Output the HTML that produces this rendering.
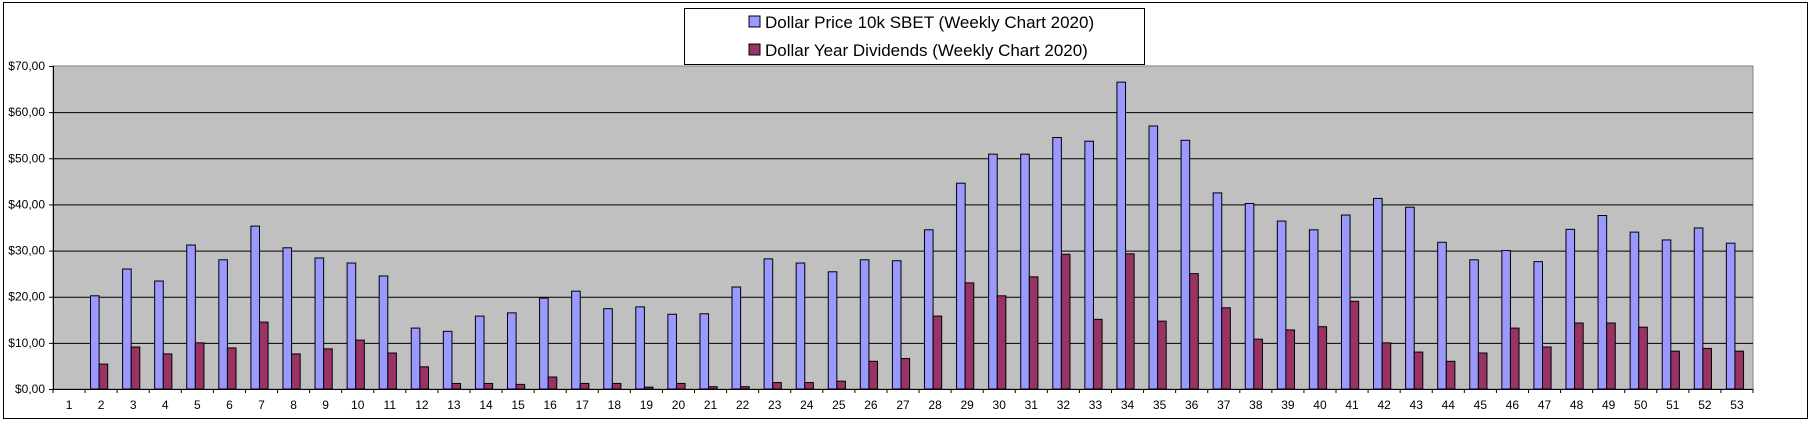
<!DOCTYPE html>
<html><head><meta charset="utf-8"><style>
body{margin:0;background:#fff;width:1812px;height:423px;overflow:hidden}
svg text{font-family:"Liberation Sans",sans-serif}
</style></head><body>
<svg id="chart" width="1812" height="423">
<rect x="3.5" y="2.5" width="1804" height="416" fill="#fff" stroke="#000"/>
<rect x="53" y="66" width="1700" height="323" fill="#c0c0c0" stroke="#808080"/>
<g id="grid"></g><g id="bars"></g><g id="axes"></g>
<g>
<rect x="684.5" y="8.5" width="460" height="56" fill="#fff" stroke="#000"/>
<rect x="749" y="16" width="11" height="11" fill="#9999ff" stroke="#000"/>
<text x="765" y="28" font-size="17">Dollar Price 10k SBET (Weekly Chart 2020)</text>
<rect x="749" y="44" width="11" height="11" fill="#993366" stroke="#000"/>
<text x="765" y="56" font-size="17">Dollar Year Dividends (Weekly Chart 2020)</text>
</g>
</svg>
<script>
const categories=[];for(let i=1;i<=53;i++)categories.push(String(i));
const priceValues=[0,20.2,26,23.4,31.2,28,35.3,30.6,28.4,27.3,24.5,13.2,12.5,15.8,16.5,19.7,21.2,17.4,17.8,16.2,16.3,22.1,28.2,27.3,25.4,28,27.8,34.5,44.6,50.9,50.9,54.5,53.7,66.5,57,53.9,42.5,40.2,36.4,34.5,37.7,41.3,39.4,31.8,28,30,27.6,34.6,37.6,34,32.3,34.9,31.6];
const dividendValues=[0,5.4,9.1,7.6,10,8.9,14.5,7.6,8.7,10.6,7.8,4.8,1.2,1.2,1,2.6,1.2,1.2,0.4,1.2,0.5,0.5,1.4,1.4,1.7,6,6.6,15.8,23,20.2,24.3,29.2,15.1,29.3,14.7,25,17.6,10.8,12.8,13.5,19,10,8,6,7.8,13.2,9.1,14.3,14.3,13.4,8.2,8.8,8.2];
const yTicks=[0,10,20,30,40,50,60,70];
const yTickLabels=["$0,00","$10,00","$20,00","$30,00","$40,00","$50,00","$60,00","$70,00"];
const NS="http://www.w3.org/2000/svg";
const X0=53,X1=1753,Y0=389,Y1=66,YMAX=70;
const bw=(X1-X0)/categories.length;
const y=v=>Y0-(v/YMAX)*(Y0-Y1);
const xc=i=>X0+bw*i;
function mk(tag,attrs,parent){const e=document.createElementNS(NS,tag);for(const k in attrs)e.setAttribute(k,attrs[k]);parent.appendChild(e);return e;}
const grid=document.getElementById('grid'),bars=document.getElementById('bars'),axes=document.getElementById('axes');
yTicks.forEach((t,i)=>{
 if(t>0&&t<YMAX){const l=mk('line',{x1:X0,x2:X1,y1:y(t)+.5,y2:y(t)+.5,stroke:'#000'},grid);
 
 }
 const tk=mk('line',{x1:X0-4,x2:X0,y1:y(t)+.5,y2:y(t)+.5,stroke:'#000'},axes);
 
 
 const tx=mk('text',{x:X0-8,y:y(t)+4,'font-size':12,'text-anchor':'end'},axes);
 tx.textContent=yTickLabels[i];
 
 
});
const w=8.6;
categories.forEach((c,i)=>{
 const cx=xc(i)+bw/2;
 if(priceValues[i]>0){const b=mk('rect',{x:cx-w-2,y:y(priceValues[i]),width:w,height:Y0-y(priceValues[i]),fill:'#9999ff',stroke:'#000','stroke-width':1},bars);
 
 }
 if(dividendValues[i]>0){const b=mk('rect',{x:cx-2,y:y(dividendValues[i]),width:w,height:Y0-y(dividendValues[i]),fill:'#993366',stroke:'#000','stroke-width':1},bars);
 
 }
 const tk=mk('line',{x1:xc(i),x2:xc(i),y1:Y0,y2:Y0+4,stroke:'#000'},axes);
 
 
 const tx=mk('text',{x:cx,y:409,'font-size':12,'text-anchor':'middle'},axes);
 tx.textContent=c;
 
 
});
const ax=mk('line',{x1:X0,x2:X1,y1:Y0+.5,y2:Y0+.5,stroke:'#000'},axes);


const tkEnd=mk('line',{x1:X1,x2:X1,y1:Y0,y2:Y0+4,stroke:'#000'},axes);


const ay=mk('line',{x1:X0+.5,x2:X0+.5,y1:Y1,y2:Y0,stroke:'#000'},axes);


</script>
</body></html>
